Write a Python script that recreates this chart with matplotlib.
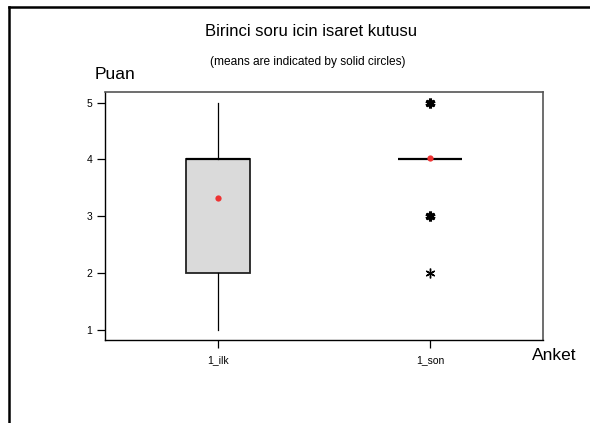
import matplotlib
matplotlib.use("Agg")
from matplotlib import pyplot as plt
from matplotlib.lines import Line2D

plt.rcParams["font.family"] = ["Liberation Sans", "DejaVu Sans"]

# box summary for each survey round
GROUPS = ["1_ilk", "1_son"]
LOW = [1, 4]
Q1 = [2, 4]
MEDIAN = [4, 4]
Q3 = [4, 4]
HIGH = [5, 4]
MEANS = [3.32, 4.03]
# outliers of the second round; repeated values are drawn heavier
OUTLIERS = [5, 3, 2]
OUTLIER_COUNT = [2, 2, 1]


def main():
    fig = plt.figure(figsize=(5.9, 4.23), dpi=100)
    ax = fig.add_axes([0.178, 0.196, 0.742, 0.587])

    stats = []
    for i, name in enumerate(GROUPS):
        stats.append({
            "label": name,
            "whislo": LOW[i],
            "q1": Q1[i],
            "med": MEDIAN[i],
            "q3": Q3[i],
            "whishi": HIGH[i],
            "fliers": [],
        })
    pos = list(range(1, len(GROUPS) + 1))
    ax.bxp(
        stats,
        positions=pos,
        widths=0.3,
        patch_artist=True,
        showcaps=False,
        showfliers=False,
        boxprops=dict(facecolor="#dadada", edgecolor="#222222", linewidth=1.3),
        whiskerprops=dict(color="black", linewidth=0.9),
        medianprops=dict(color="black", linewidth=1.6),
    )

    # outliers as asterisks
    for val, cnt in zip(OUTLIERS, OUTLIER_COUNT):
        ax.plot(pos[1], val, marker=(6, 2, 0), markersize=7,
                markeredgewidth=1.0 + 1.2 * (cnt - 1), color="black",
                linestyle="none", zorder=4)

    # means as solid red circles
    ax.plot(pos, MEANS, "o", color="#ee3333", markersize=4.5, zorder=5,
            markeredgewidth=0)

    ax.set_xlim(0.467, 2.533)
    ax.set_ylim(0.82, 5.19)
    ax.set_yticks([1, 2, 3, 4, 5])
    ax.set_xticks(pos)
    ax.set_xticklabels(GROUPS)
    ax.tick_params(direction="out", length=6, width=0.9, labelsize=7.5,
                   pad=3, color="black")
    ax.tick_params(axis="x", pad=5)

    for side in ("left", "bottom"):
        ax.spines[side].set_color("black")
        ax.spines[side].set_linewidth(1.0)
    for side in ("top", "right"):
        ax.spines[side].set_color("#555555")
        ax.spines[side].set_linewidth(1.2)

    fig.text(0.527, 0.925, "Birinci soru icin isaret kutusu",
             ha="center", va="center", fontsize=12)
    fig.text(0.521, 0.853, "(means are indicated by solid circles)",
             ha="center", va="center", fontsize=8.6)
    fig.text(0.195, 0.823, "Puan", ha="center", va="center", fontsize=12.5)
    fig.text(0.94, 0.160, "Anket", ha="center", va="center", fontsize=12.5)

    # page frame along the left and top edges
    fig.add_artist(Line2D([0.016, 0.016], [0, 0.984], color="black",
                          linewidth=1.8, transform=fig.transFigure))
    fig.add_artist(Line2D([0.016, 1.0], [0.984, 0.984], color="black",
                          linewidth=1.8, transform=fig.transFigure))

    fig.savefig("out.png", dpi=100)


if __name__ == "__main__":
    main()
